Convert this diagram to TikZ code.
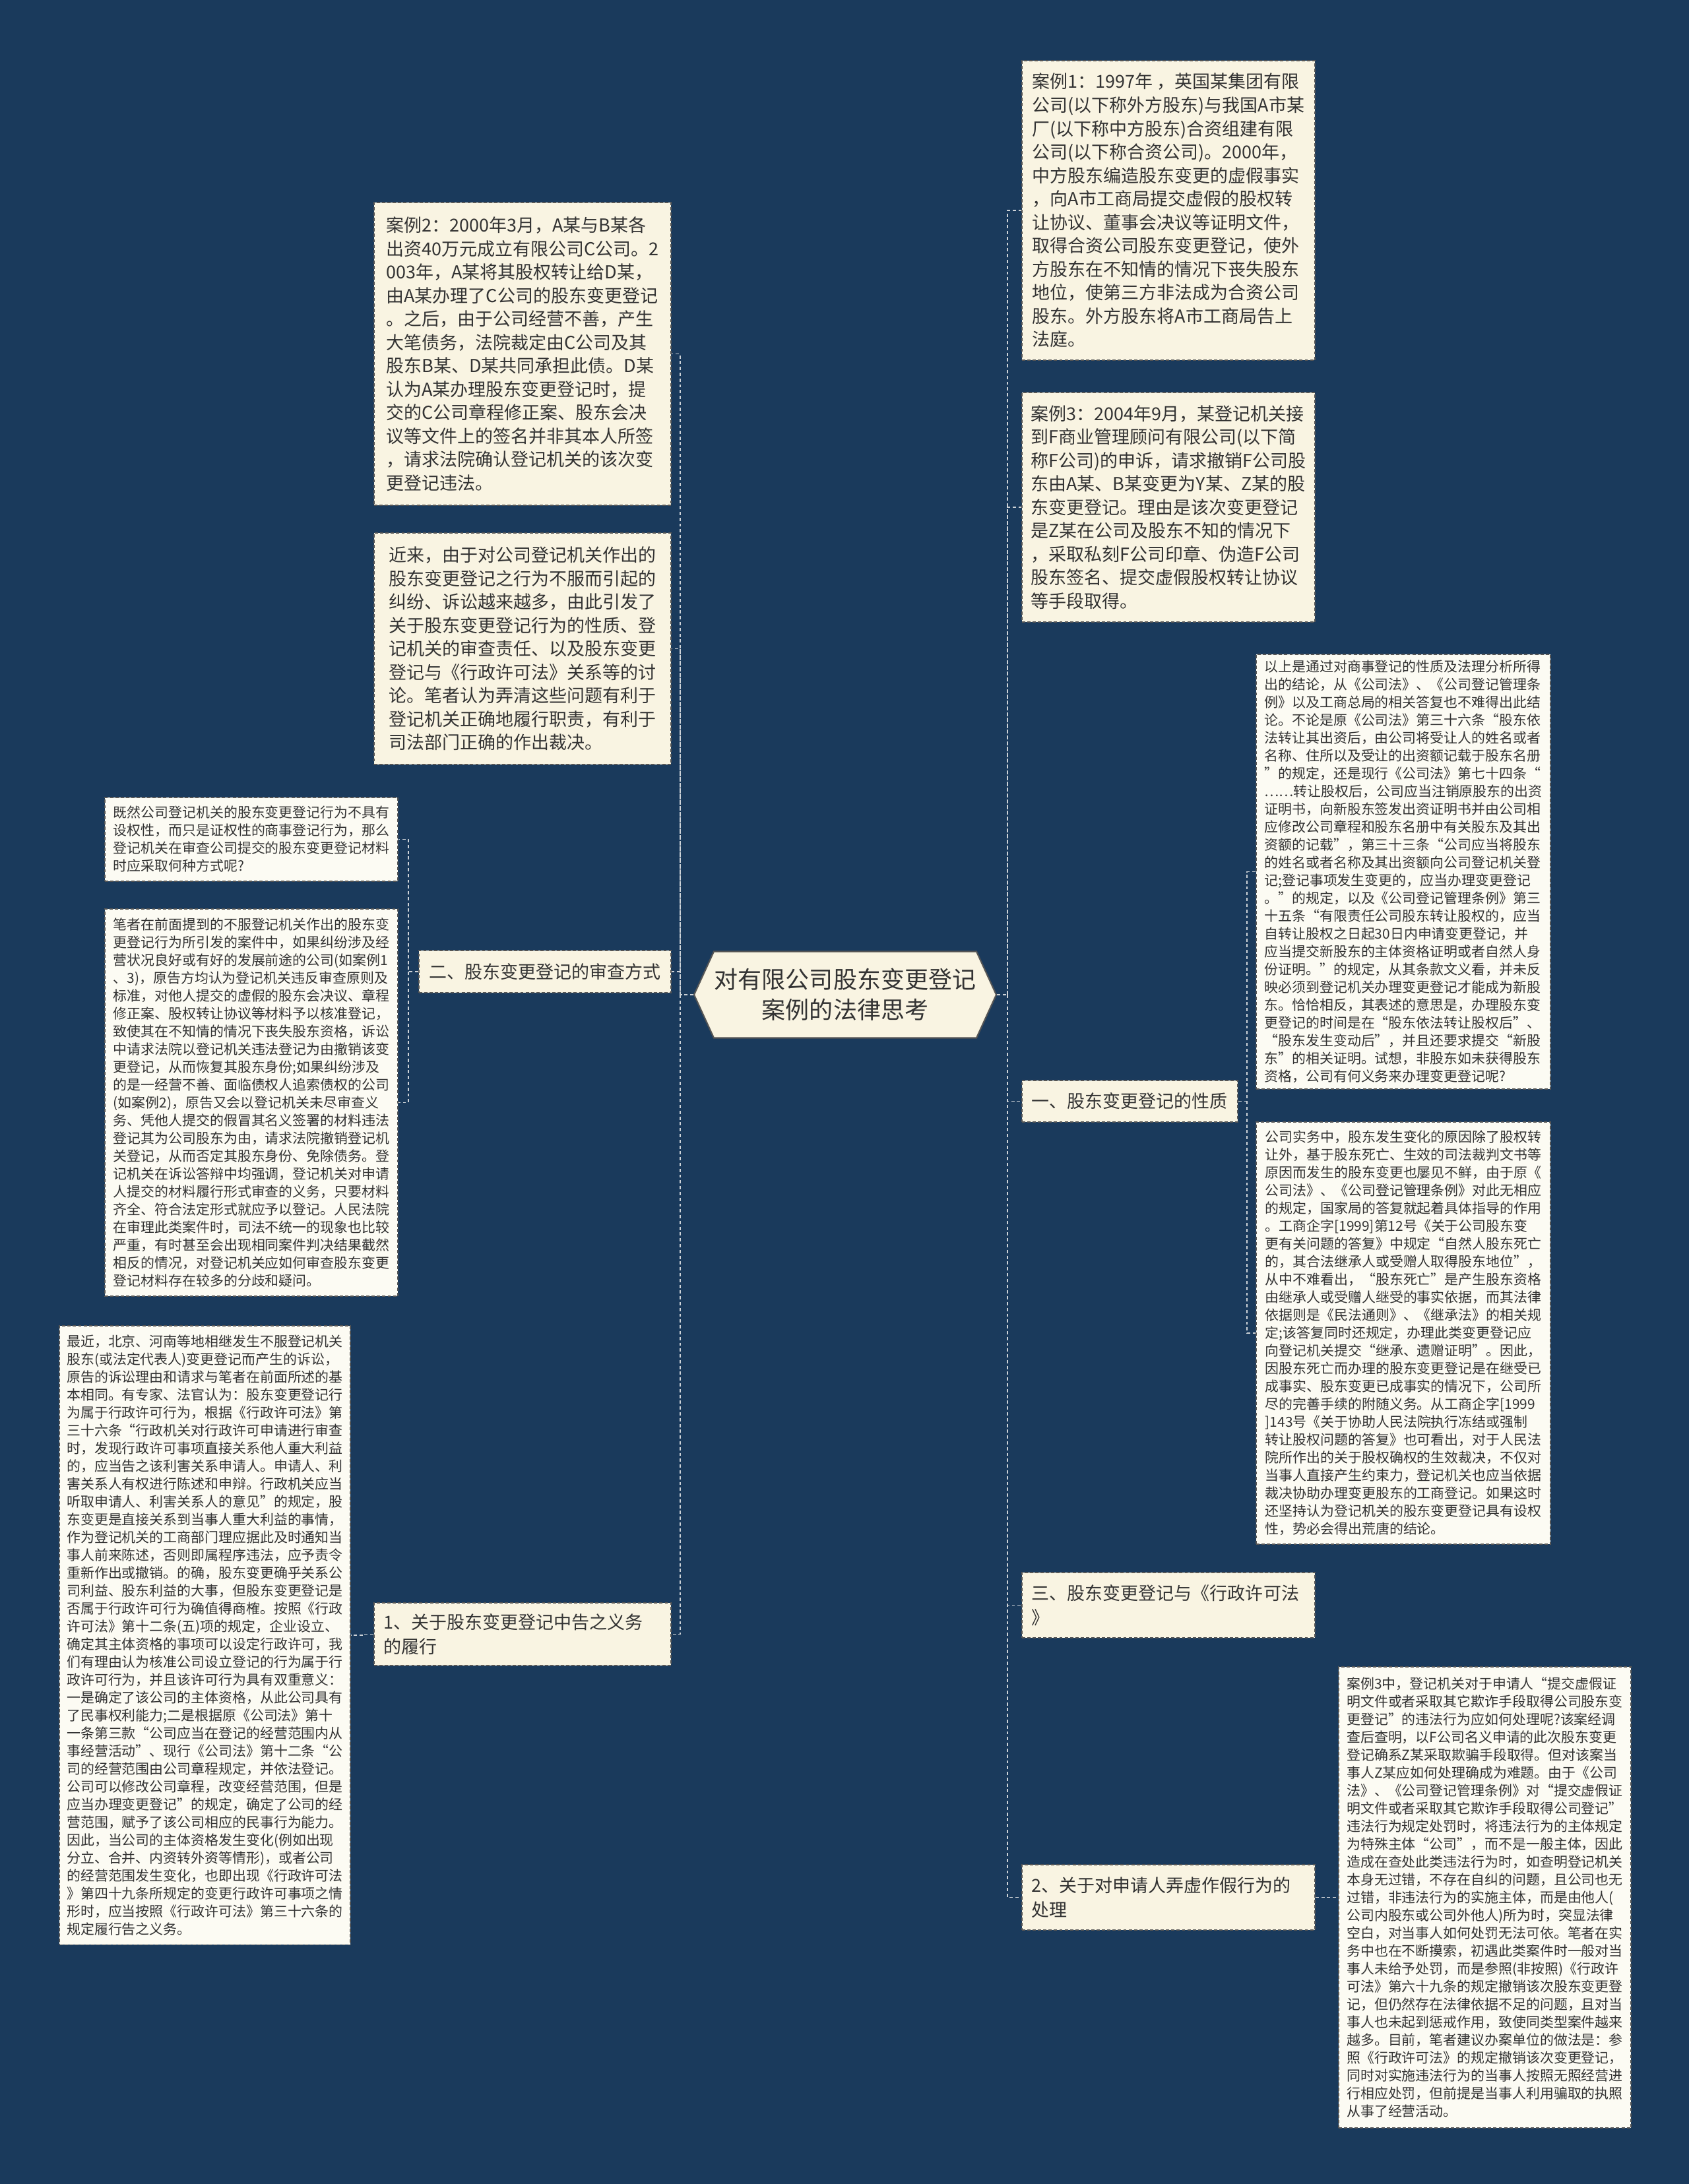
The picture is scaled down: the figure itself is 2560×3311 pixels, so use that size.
\documentclass[tikz,border=0pt]{standalone}
\usepackage{fontspec}
\setmainfont{Noto Sans CJK SC}
\usetikzlibrary{calc}
\definecolor{bgc}{RGB}{26,58,92}
\definecolor{creamA}{RGB}{249,244,226}
\definecolor{creamB}{RGB}{252,251,243}
\definecolor{txt}{RGB}{51,51,51}
\definecolor{edgec}{RGB}{85,85,85}
\definecolor{connc}{RGB}{205,210,215}
\pgfdeclarelayer{back}
\pgfdeclarelayer{lines}
\pgfsetlayers{back,lines,main}
\tikzset{
  box/.style={draw=edgec, dash pattern=on 1.4pt off 0.9pt, line width=0.5pt, anchor=north west, align=left, text=txt, inner sep=0pt},
  bigbox/.style={box, fill=creamA, font=\fontsize{7.68pt}{10.1pt}\selectfont},
  smallbox/.style={box, fill=creamB, font=\fontsize{5.95pt}{7.68pt}\selectfont},
  lbl/.style={box, fill=creamA, inner xsep=0.15cm, font=\fontsize{7.68pt}{10.6pt}\selectfont},
  conn/.style={draw=connc, dash pattern=on 1.4pt off 1.1pt, line width=0.5pt},
  hexs/.style={fill=creamA, draw=edgec, line width=0.6pt},
}
\begin{document}
\begin{tikzpicture}[x=0.01cm,y=-0.01cm]
\begin{pgfonlayer}{back}
\fill[bgc] (0,0) rectangle (2560,3311);
\end{pgfonlayer}
\useasboundingbox (0,0) rectangle (2560,3311);

% centre
\draw[hexs] (1052,1508) -- (1082,1442.5) -- (1480,1442.5) -- (1510,1508) -- (1480,1573.5) -- (1082,1573.5) -- cycle;
\node[font=\fontsize{10.24pt}{13.1pt}\selectfont, align=center, text=txt, minimum width=4.58cm, minimum height=1.31cm, inner sep=0pt] (c) at (1281,1508) {对有限公司股东变更登记\\案例的法律思考};

% right side
\node[bigbox, minimum width=4.44cm, minimum height=4.54cm] (k1) at (1548,91) {案例1：1997年~，英国某集团有限\\
公司(以下称外方股东)与我国A市某\\
厂(以下称中方股东)合资组建有限\\
公司(以下称合资公司)。2000年，\\
中方股东编造股东变更的虚假事实\\
，向A市工商局提交虚假的股权转\\
让协议、董事会决议等证明文件，\\
取得合资公司股东变更登记，使外\\
方股东在不知情的情况下丧失股东\\
地位，使第三方非法成为合资公司\\
股东。外方股东将A市工商局告上\\
法庭。};

\node[bigbox, minimum width=4.44cm, minimum height=3.48cm] (k3) at (1548,594) {案例3：2004年9月，某登记机关接\\
到F商业管理顾问有限公司(以下简\\
称F公司)的申诉，请求撤销F公司股\\
东由A某、B某变更为Y某、Z某的股\\
东变更登记。理由是该次变更登记\\
是Z某在公司及股东不知的情况下\\
，采取私刻F公司印章、伪造F公司\\
股东签名、提交虚假股权转让协议\\
等手段取得。};

\node[smallbox, minimum width=4.46cm, minimum height=6.59cm] (r1) at (1903,991) {以上是通过对商事登记的性质及法理分析所得\\
出的结论，从《公司法》、《公司登记管理条\\
例》以及工商总局的相关答复也不难得出此结\\
论。不论是原《公司法》第三十六条“股东依\\
法转让其出资后，由公司将受让人的姓名或者\\
名称、住所以及受让的出资额记载于股东名册\\
”的规定，还是现行《公司法》第七十四条“\\
……转让股权后，公司应当注销原股东的出资\\
证明书，向新股东签发出资证明书并由公司相\\
应修改公司章程和股东名册中有关股东及其出\\
资额的记载”，第三十三条“公司应当将股东\\
的姓名或者名称及其出资额向公司登记机关登\\
记;登记事项发生变更的，应当办理变更登记\\
。”的规定，以及《公司登记管理条例》第三\\
十五条“有限责任公司股东转让股权的，应当\\
自转让股权之日起30日内申请变更登记，并\\
应当提交新股东的主体资格证明或者自然人身\\
份证明。”的规定，从其条款文义看，并未反\\
映必须到登记机关办理变更登记才能成为新股\\
东。恰恰相反，其表述的意思是，办理股东变\\
更登记的时间是在“股东依法转让股权后”、\\
“股东发生变动后”，并且还要求提交“新股\\
东”的相关证明。试想，非股东如未获得股东\\
资格，公司有何义务来办理变更登记呢?};

\node[lbl, minimum width=3.26cm, minimum height=0.63cm] (b1) at (1548,1637) {一、股东变更登记的性质};

\node[smallbox, minimum width=4.46cm, minimum height=6.40cm] (r2) at (1903,1700) {公司实务中，股东发生变化的原因除了股权转\\
让外，基于股东死亡、生效的司法裁判文书等\\
原因而发生的股东变更也屡见不鲜，由于原《\\
公司法》、《公司登记管理条例》对此无相应\\
的规定，国家局的答复就起着具体指导的作用\\
。工商企字[1999]第12号《关于公司股东变\\
更有关问题的答复》中规定“自然人股东死亡\\
的，其合法继承人或受赠人取得股东地位”，\\
从中不难看出，“股东死亡”是产生股东资格\\
由继承人或受赠人继受的事实依据，而其法律\\
依据则是《民法通则》、《继承法》的相关规\\
定;该答复同时还规定，办理此类变更登记应\\
向登记机关提交“继承、遗赠证明”。因此，\\
因股东死亡而办理的股东变更登记是在继受已\\
成事实、股东变更已成事实的情况下，公司所\\
尽的完善手续的附随义务。从工商企字[1999\\
]143号《关于协助人民法院执行冻结或强制\\
转让股权问题的答复》也可看出，对于人民法\\
院所作出的关于股权确权的生效裁决，不仅对\\
当事人直接产生约束力，登记机关也应当依据\\
裁决协助办理变更股东的工商登记。如果这时\\
还坚持认为登记机关的股东变更登记具有设权\\
性，势必会得出荒唐的结论。};

\node[lbl, text width=4.14cm, minimum height=0.99cm] (b3) at (1548,2383) {三、股东变更登记与《行政许可法\\》};

\node[lbl, text width=4.14cm, minimum height=0.99cm] (b4) at (1548,2826) {2、关于对申请人弄虚作假行为的\\处理};

\node[smallbox, minimum width=4.43cm, minimum height=6.99cm] (r3) at (2028,2526) {案例3中，登记机关对于申请人“提交虚假证\\
明文件或者采取其它欺诈手段取得公司股东变\\
更登记”的违法行为应如何处理呢?该案经调\\
查后查明，以F公司名义申请的此次股东变更\\
登记确系Z某采取欺骗手段取得。但对该案当\\
事人Z某应如何处理确成为难题。由于《公司\\
法》、《公司登记管理条例》对“提交虚假证\\
明文件或者采取其它欺诈手段取得公司登记”\\
违法行为规定处罚时，将违法行为的主体规定\\
为特殊主体“公司”，而不是一般主体，因此\\
造成在查处此类违法行为时，如查明登记机关\\
本身无过错，不存在自纠的问题，且公司也无\\
过错，非违法行为的实施主体，而是由他人(\\
公司内股东或公司外他人)所为时，突显法律\\
空白，对当事人如何处罚无法可依。笔者在实\\
务中也在不断摸索，初遇此类案件时一般对当\\
事人未给予处罚，而是参照(非按照)《行政许\\
可法》第六十九条的规定撤销该次股东变更登\\
记，但仍然存在法律依据不足的问题，且对当\\
事人也未起到惩戒作用，致使同类型案件越来\\
越多。目前，笔者建议办案单位的做法是：参\\
照《行政许可法》的规定撤销该次变更登记，\\
同时对实施违法行为的当事人按照无照经营进\\
行相应处罚，但前提是当事人利用骗取的执照\\
从事了经营活动。};

% left side
\node[bigbox, minimum width=4.50cm, minimum height=4.59cm] (k2) at (566,306) {案例2：2000年3月，A某与B某各\\
出资40万元成立有限公司C公司。2\\
003年，A某将其股权转让给D某，\\
由A某办理了C公司的股东变更登记\\
。之后，由于公司经营不善，产生\\
大笔债务，法院裁定由C公司及其\\
股东B某、D某共同承担此债。D某\\
认为A某办理股东变更登记时，提\\
交的C公司章程修正案、股东会决\\
议等文件上的签名并非其本人所签\\
，请求法院确认登记机关的该次变\\
更登记违法。};

\node[bigbox, minimum width=4.50cm, minimum height=3.51cm] (jl) at (566,807) {近来，由于对公司登记机关作出的\\
股东变更登记之行为不服而引起的\\
纠纷、诉讼越来越多，由此引发了\\
关于股东变更登记行为的性质、登\\
记机关的审查责任、以及股东变更\\
登记与《行政许可法》关系等的讨\\
论。笔者认为弄清这些问题有利于\\
登记机关正确地履行职责，有利于\\
司法部门正确的作出裁决。};

\node[smallbox, minimum width=4.44cm, minimum height=1.27cm] (l1) at (158,1208) {既然公司登记机关的股东变更登记行为不具有\\
设权性，而只是证权性的商事登记行为，那么\\
登记机关在审查公司提交的股东变更登记材料\\
时应采取何种方式呢?};

\node[lbl, minimum width=3.82cm, minimum height=0.64cm] (b2) at (634,1440) {二、股东变更登记的审查方式};

\node[smallbox, minimum width=4.44cm, minimum height=5.87cm] (l2) at (158,1377) {笔者在前面提到的不服登记机关作出的股东变\\
更登记行为所引发的案件中，如果纠纷涉及经\\
营状况良好或有好的发展前途的公司(如案例1\\
、3)，原告方均认为登记机关违反审查原则及\\
标准，对他人提交的虚假的股东会决议、章程\\
修正案、股权转让协议等材料予以核准登记，\\
致使其在不知情的情况下丧失股东资格，诉讼\\
中请求法院以登记机关违法登记为由撤销该变\\
更登记，从而恢复其股东身份;如果纠纷涉及\\
的是一经营不善、面临债权人追索债权的公司\\
(如案例2)，原告又会以登记机关未尽审查义\\
务、凭他人提交的假冒其名义签署的材料违法\\
登记其为公司股东为由，请求法院撤销登记机\\
关登记，从而否定其股东身份、免除债务。登\\
记机关在诉讼答辩中均强调，登记机关对申请\\
人提交的材料履行形式审查的义务，只要材料\\
齐全、符合法定形式就应予以登记。人民法院\\
在审理此类案件时，司法不统一的现象也比较\\
严重，有时甚至会出现相同案件判决结果截然\\
相反的情况，对登记机关应如何审查股东变更\\
登记材料存在较多的分歧和疑问。};

\node[smallbox, minimum width=4.41cm, minimum height=9.38cm] (l3) at (89,2009) {最近，北京、河南等地相继发生不服登记机关\\
股东(或法定代表人)变更登记而产生的诉讼，\\
原告的诉讼理由和请求与笔者在前面所述的基\\
本相同。有专家、法官认为：股东变更登记行\\
为属于行政许可行为，根据《行政许可法》第\\
三十六条“行政机关对行政许可申请进行审查\\
时，发现行政许可事项直接关系他人重大利益\\
的，应当告之该利害关系申请人。申请人、利\\
害关系人有权进行陈述和申辩。行政机关应当\\
听取申请人、利害关系人的意见”的规定，股\\
东变更是直接关系到当事人重大利益的事情，\\
作为登记机关的工商部门理应据此及时通知当\\
事人前来陈述，否则即属程序违法，应予责令\\
重新作出或撤销。的确，股东变更确乎关系公\\
司利益、股东利益的大事，但股东变更登记是\\
否属于行政许可行为确值得商榷。按照《行政\\
许可法》第十二条(五)项的规定，企业设立、\\
确定其主体资格的事项可以设定行政许可，我\\
们有理由认为核准公司设立登记的行为属于行\\
政许可行为，并且该许可行为具有双重意义：\\
一是确定了该公司的主体资格，从此公司具有\\
了民事权利能力;二是根据原《公司法》第十\\
一条第三款“公司应当在登记的经营范围内从\\
事经营活动”、现行《公司法》第十二条“公\\
司的经营范围由公司章程规定，并依法登记。\\
公司可以修改公司章程，改变经营范围，但是\\
应当办理变更登记”的规定，确定了公司的经\\
营范围，赋予了该公司相应的民事行为能力。\\
因此，当公司的主体资格发生变化(例如出现\\
分立、合并、内资转外资等情形)，或者公司\\
的经营范围发生变化，也即出现《行政许可法\\
》第四十九条所规定的变更行政许可事项之情\\
形时，应当按照《行政许可法》第三十六条的\\
规定履行告之义务。};

\node[lbl, text width=4.20cm, minimum height=0.95cm] (b5) at (566,2429) {1、关于股东变更登记中告之义务\\的履行};

% connectors
\coordinate (L) at (1031,0);
\coordinate (R) at (1527,0);
\coordinate (L2) at (619,0);
\coordinate (L3) at (549,0);
\coordinate (R2) at (1890,0);
\coordinate (R3) at (2010,0);
\begin{pgfonlayer}{lines}
\draw[conn] (c.west) -- (c.west -| L) |- (k2.east);
\draw[conn] (c.west -| L) |- (jl.east);
\draw[conn] (c.west -| L) |- (b2.east);
\draw[conn] (c.west -| L) |- (b5.east);
\draw[conn] (c.east) -- (c.east -| R) |- (k1.west);
\draw[conn] (c.east -| R) |- (k3.west);
\draw[conn] (c.east -| R) |- (b1.west);
\draw[conn] (c.east -| R) |- (b3.west);
\draw[conn] (c.east -| R) |- (b4.west);
\draw[conn] (b2.west) -- (b2.west -| L2) |- (l1.east);
\draw[conn] (b2.west -| L2) |- (l2.east);
\draw[conn] (b5.west) -- (b5.west -| L3) |- (l3.east);
\draw[conn] (b1.east) -- (b1.east -| R2) |- (r1.west);
\draw[conn] (b1.east -| R2) |- (r2.west);
\draw[conn] (b4.east) -- (b4.east -| R3) |- (r3.west);
\end{pgfonlayer}
\end{tikzpicture}
\end{document}
